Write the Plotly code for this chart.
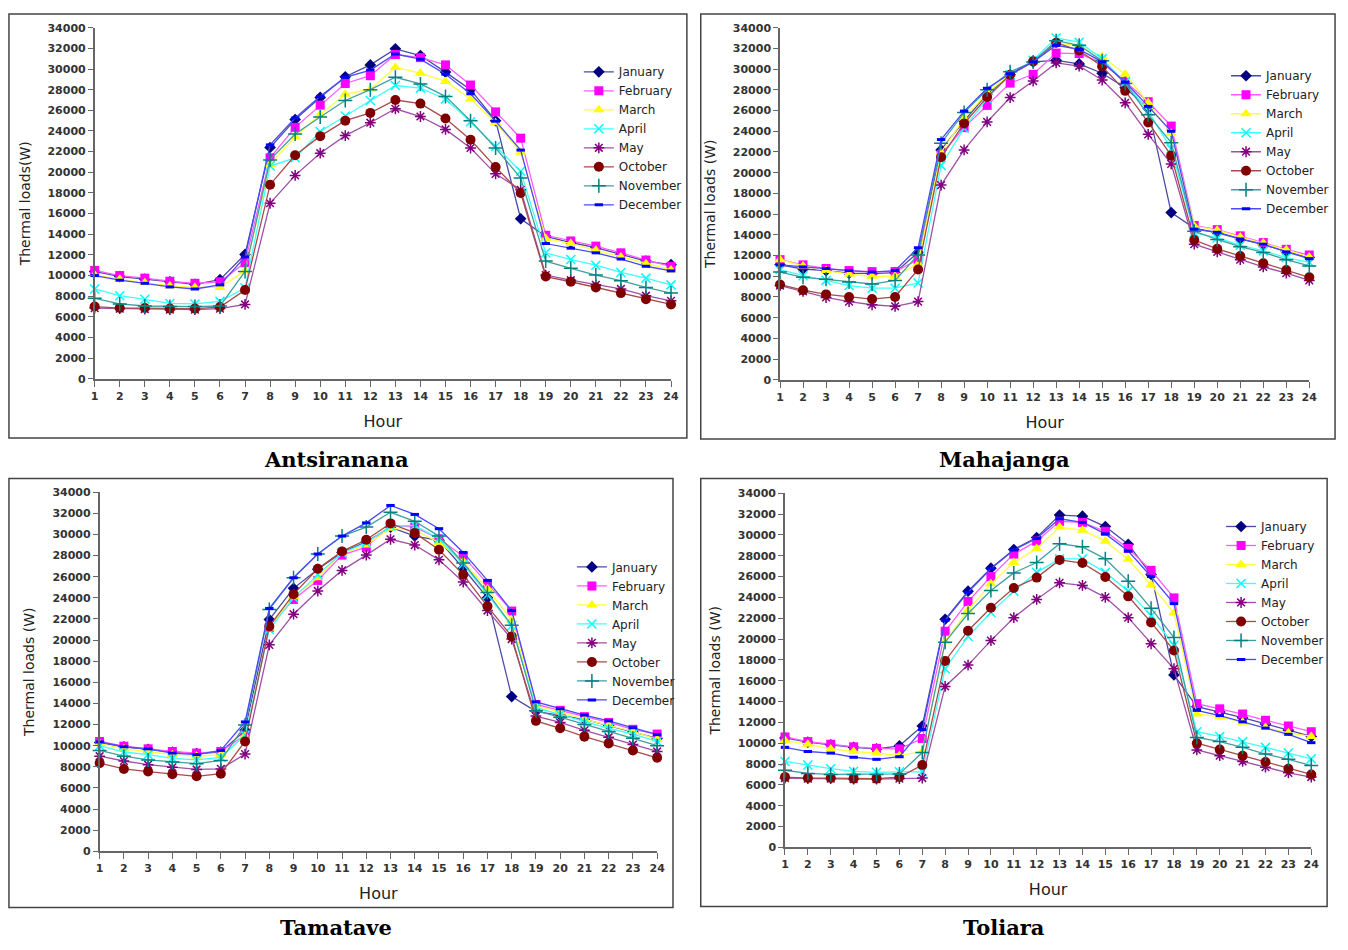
import plotly.graph_objects as go

FW, FH = 1348, 950
HOURS = list(range(1, 25))
MONTHS = ["January", "February", "March", "April", "May", "October", "November", "December"]

# ---------------- Antsiranana ----------------
ANT_JAN = [10400, 9900, 9650, 9400, 9150, 9600, 12050, 22400, 25100, 27250, 29250, 30400, 31950, 31300, 29700, 28000, 25000, 15500, 13800, 13200, 12700, 12050, 11400, 11050]
ANT_FEB = [10500, 10000, 9750, 9450, 9250, 9400, 11250, 21400, 24350, 26500, 28600, 29350, 31400, 31100, 30400, 28450, 25850, 23300, 13900, 13350, 12850, 12200, 11500, 10900]
ANT_MAR = [10050, 9650, 9300, 9000, 8850, 8850, 10450, 20750, 23450, 25600, 27550, 28050, 30150, 29600, 28800, 27100, 24800, 21950, 13600, 13100, 12450, 11800, 11150, 10550]
ANT_APR = [8700, 8050, 7700, 7300, 7250, 7500, 8800, 20600, 21400, 23950, 25450, 26950, 28400, 28150, 27100, 24900, 22500, 20100, 12200, 11550, 11000, 10300, 9750, 9100]
ANT_MAY = [6850, 6800, 6750, 6700, 6700, 6800, 7200, 17000, 19700, 21850, 23550, 24800, 26150, 25400, 24150, 22350, 19850, 18300, 10050, 9550, 9100, 8700, 8050, 7550]
ANT_OCT = [7000, 6850, 6850, 6800, 6800, 6950, 8600, 18800, 21650, 23500, 25000, 25750, 27000, 26650, 25200, 23150, 20500, 18000, 9900, 9400, 8850, 8300, 7700, 7200]
ANT_NOV = [7800, 7250, 7050, 7000, 7000, 7050, 10400, 21200, 23700, 25350, 26950, 28000, 29200, 28550, 27350, 25000, 22350, 19450, 11400, 10700, 10050, 9500, 8850, 8300]
ANT_DEC = [10000, 9550, 9250, 8900, 8700, 9100, 11800, 22650, 25250, 27350, 29200, 29900, 31450, 30950, 29500, 27600, 24950, 22150, 13100, 12650, 12200, 11600, 10900, 10450]

# ---------------- Mahajanga ----------------
MAH_JAN = [11100, 10700, 10550, 10300, 10250, 10350, 12300, 22200, 25000, 27600, 29450, 30700, 30850, 30500, 29600, 28200, 26200, 16150, 14650, 14200, 13600, 13050, 12400, 11800]
MAH_FEB = [11600, 11100, 10750, 10550, 10450, 10450, 11600, 21750, 24350, 26500, 28650, 29500, 31550, 31500, 30600, 28800, 26850, 24500, 14900, 14500, 13900, 13250, 12600, 12050]
MAH_MAR = [11600, 11000, 10550, 10200, 10000, 10000, 11200, 21950, 25250, 27700, 29500, 30700, 32450, 32300, 31200, 29500, 26750, 23800, 14850, 14450, 13800, 13200, 12550, 11850]
MAH_APR = [10650, 10050, 9600, 9100, 8850, 8850, 9350, 20700, 24300, 27150, 29450, 30850, 33000, 32600, 31000, 28700, 25950, 22300, 14200, 13700, 13000, 12450, 11800, 11350]
MAH_MAY = [9100, 8550, 7950, 7550, 7250, 7100, 7550, 18800, 22200, 24900, 27250, 28850, 30600, 30300, 28950, 26750, 23700, 20850, 13100, 12350, 11600, 10900, 10300, 9600]
MAH_OCT = [9200, 8650, 8250, 8000, 7800, 8000, 10650, 21500, 24750, 27300, 29450, 30750, 32550, 31800, 30250, 27900, 24850, 21650, 13500, 12650, 11950, 11250, 10600, 9900]
MAH_NOV = [10400, 9900, 9700, 9450, 9250, 9600, 12050, 22850, 25800, 28000, 29750, 30700, 32750, 32300, 30800, 28600, 25600, 22900, 14350, 13550, 12850, 12300, 11600, 11000]
MAH_DEC = [11100, 10900, 10750, 10550, 10400, 10550, 12750, 23200, 25950, 28150, 29550, 30700, 32300, 31900, 30700, 28750, 26400, 24000, 14550, 14250, 13600, 13100, 12350, 11700]

# ---------------- Tamatave ----------------
TAM_JAN = [10300, 9900, 9650, 9400, 9250, 9400, 11450, 21950, 24900, 26700, 28300, 29300, 30700, 29850, 29450, 26800, 24000, 14650, 13250, 12900, 12500, 11900, 11300, 10700]
TAM_FEB = [10400, 9950, 9700, 9450, 9300, 9450, 11000, 21200, 23850, 25650, 28050, 28800, 30900, 30700, 29600, 27950, 25350, 22750, 13900, 13350, 12750, 12200, 11550, 11100]
TAM_MAR = [10200, 9700, 9450, 9150, 9000, 9150, 10950, 21150, 24100, 25900, 28200, 29000, 30600, 30400, 29250, 27450, 24850, 21900, 13750, 13200, 12500, 11950, 11350, 10600]
TAM_APR = [10000, 9400, 9150, 8800, 8650, 8900, 11000, 21000, 24000, 26200, 28250, 29200, 30800, 30850, 29600, 27200, 24300, 21350, 13600, 12950, 12250, 11650, 11100, 10400]
TAM_MAY = [9000, 8550, 8200, 7950, 7750, 7800, 9200, 19550, 22450, 24650, 26600, 28050, 29550, 29000, 27600, 25500, 22800, 20100, 12800, 12200, 11450, 10800, 10100, 9450]
TAM_OCT = [8350, 7800, 7550, 7300, 7100, 7350, 10400, 21300, 24350, 26750, 28400, 29500, 31050, 30150, 28550, 26200, 23200, 20350, 12350, 11650, 10850, 10200, 9550, 8850]
TAM_NOV = [9550, 9000, 8650, 8450, 8300, 8600, 11950, 22900, 25900, 28150, 29850, 30700, 32100, 31250, 29850, 27300, 24500, 21400, 13300, 12700, 12000, 11350, 10700, 10000]
TAM_DEC = [10350, 9900, 9700, 9300, 9150, 9550, 12250, 23000, 25900, 28150, 29850, 31100, 32750, 31900, 30550, 28300, 25650, 22800, 14150, 13500, 12900, 12350, 11700, 11050]

# ---------------- Toliara ----------------
TOL_JAN = [10500, 10100, 9850, 9600, 9450, 9750, 11650, 21900, 24600, 26800, 28600, 29750, 31900, 31800, 30800, 29100, 26200, 16550, 13500, 13000, 12450, 11850, 11250, 10650]
TOL_FEB = [10600, 10150, 9900, 9650, 9500, 9450, 10450, 20750, 23600, 26000, 28150, 29400, 31300, 31200, 30350, 28700, 26600, 23950, 13800, 13300, 12800, 12200, 11650, 11100]
TOL_MAR = [10250, 9900, 9450, 9200, 9050, 8800, 9200, 19750, 22800, 25300, 27350, 28700, 30750, 30450, 29400, 27650, 25200, 22500, 12800, 12550, 12000, 11500, 11000, 10650]
TOL_APR = [8250, 7900, 7550, 7300, 7200, 7250, 7250, 17150, 20250, 22550, 24600, 26400, 27700, 27700, 26400, 24600, 22250, 19400, 11100, 10650, 10150, 9600, 9050, 8500]
TOL_MAY = [6650, 6600, 6600, 6550, 6550, 6600, 6650, 15450, 17500, 19850, 22050, 23800, 25400, 25150, 24000, 22050, 19550, 17150, 9350, 8800, 8250, 7700, 7150, 6750]
TOL_OCT = [6750, 6650, 6650, 6600, 6600, 6750, 7900, 17900, 20800, 23000, 24900, 25900, 27600, 27300, 25950, 24100, 21600, 18900, 10000, 9400, 8800, 8200, 7550, 7000]
TOL_NOV = [7400, 7100, 7000, 7000, 7000, 7050, 9100, 19700, 22450, 24650, 26350, 27350, 29150, 28850, 27700, 25550, 22950, 20150, 10550, 10150, 9600, 8950, 8450, 7850]
TOL_DEC = [9600, 9200, 9050, 8650, 8450, 8700, 11300, 21800, 24500, 26750, 28550, 29650, 31550, 31200, 30100, 28450, 26000, 23400, 13150, 12650, 12050, 11450, 10850, 10050]

CITIES = ["Antsiranana", "Mahajanga", "Tamatave", "Toliara"]
SERIES = {
    "Antsiranana": [ANT_JAN, ANT_FEB, ANT_MAR, ANT_APR, ANT_MAY, ANT_OCT, ANT_NOV, ANT_DEC],
    "Mahajanga": [MAH_JAN, MAH_FEB, MAH_MAR, MAH_APR, MAH_MAY, MAH_OCT, MAH_NOV, MAH_DEC],
    "Tamatave": [TAM_JAN, TAM_FEB, TAM_MAR, TAM_APR, TAM_MAY, TAM_OCT, TAM_NOV, TAM_DEC],
    "Toliara": [TOL_JAN, TOL_FEB, TOL_MAR, TOL_APR, TOL_MAY, TOL_OCT, TOL_NOV, TOL_DEC],
}
Y_TITLES = ["Thermal loads(W)", "Thermal loads (W)", "Thermal loads (W)", "Thermal loads (W)"]

STYLES = [
    dict(symbol="diamond", size=9, mcolor="#000080", lcolor="#4a4aa6", open=False),
    dict(symbol="square", size=9, mcolor="#ff00ff", lcolor="#ff5cff", open=False),
    dict(symbol="triangle-up", size=10, mcolor="#ffff00", lcolor="#ffff40", open=False),
    dict(symbol="x-thin", size=9, mcolor="#00ffff", lcolor="#40ffff", open=True),
    dict(symbol="asterisk", size=9, mcolor="#800080", lcolor="#a050a8", open=True),
    dict(symbol="circle", size=10, mcolor="#800000", lcolor="#a84a4a", open=False),
    dict(symbol="cross-thin", size=10, mcolor="#008080", lcolor="#40a0a0", open=True),
    dict(symbol="line-ew", size=6, mcolor="#0000ff", lcolor="#4a4aff", open=True),
]

# panel geometry in screen pixels: x of hour1, x of hour24, y of 0, y of 34000
PANELS = [
    dict(x0=91.5, x1=673, yb=378, yt=22, box=(5, 8, 689, 438), leg=(580, 52), title=(335, 460)),
    dict(x0=783, x1=1317, yb=379, yt=22, box=(703, 8, 1343, 439), leg=(1233, 56), title=(1009, 460)),
    dict(x0=96.5, x1=659, yb=857, yt=493, box=(5, 479, 675, 914), leg=(573, 554), title=(335, 934)),
    dict(x0=788, x1=1319, yb=853, yt=494, box=(703, 479, 1335, 913), leg=(1228, 513), title=(1009, 934)),
]

def px(x):
    return x / FW

def py(y):
    return 1 - y / FH

fig = go.Figure()
layout = dict(
    width=FW, height=FH, margin=dict(l=0, r=0, t=0, b=0),
    paper_bgcolor="white", plot_bgcolor="white",
    font=dict(family="DejaVu Sans", color="#222222"),
    shapes=[], annotations=[],
)

tickfont = dict(family="DejaVu Sans", size=11, color="#333333", weight="bold")

for i, city in enumerate(CITIES):
    p = PANELS[i]
    n = "" if i == 0 else str(i + 1)
    legname = "legend" if i == 0 else "legend" + str(i + 1)
    for m, (month, vals) in enumerate(zip(MONTHS, SERIES[city])):
        st = STYLES[m]
        marker = dict(symbol=st["symbol"], size=st["size"], color=st["mcolor"],
                      line=dict(color=st["mcolor"], width=1.5 if st["open"] else 0))
        if st["symbol"] == "line-ew":
            marker["line"] = dict(color=st["mcolor"], width=3)
        fig.add_trace(go.Scatter(
            x=HOURS, y=vals, name=month, mode="lines+markers",
            line=dict(color=st["lcolor"], width=1.3),
            marker=marker, cliponaxis=False,
            xaxis="x" + n, yaxis="y" + n, legend=legname,
        ))
    layout["xaxis" + n] = dict(
        domain=[px(p["x0"]), px(p["x1"])], anchor="y" + n, range=[1, 24],
        tickmode="array", tickvals=HOURS, ticktext=[str(h) for h in HOURS],
        showline=True, linecolor="#666666", linewidth=1.5,
        ticks="outside", ticklen=6, tickwidth=1.2, tickcolor="#666666",
        showgrid=False, zeroline=False, tickfont=tickfont,
        title=dict(text="Hour", font=dict(family="DejaVu Sans", size=16, color="#222222"), standoff=14),
    )
    layout["yaxis" + n] = dict(
        domain=[py(p["yb"]), py(p["yt"])], anchor="x" + n, range=[0, 34000],
        tickmode="linear", tick0=0, dtick=2000, tickformat="d",
        showline=True, linecolor="#666666", linewidth=1.5,
        ticks="outside", ticklen=5, tickwidth=1.2, tickcolor="#666666",
        showgrid=False, zeroline=False, tickfont=tickfont,
        title=dict(text=Y_TITLES[i], font=dict(family="DejaVu Sans", size=14, color="#222222"), standoff=14),
    )
    lx, ly = p["leg"]
    layout[legname] = dict(
        x=px(lx), y=py(ly), xanchor="left", yanchor="top", xref="paper", yref="paper",
        bgcolor="rgba(0,0,0,0)", borderwidth=0, itemwidth=30,
        font=dict(family="DejaVu Sans", size=12, color="#222222"),
        tracegroupgap=0,
    )
    bx0, by0, bx1, by1 = p["box"]
    layout["shapes"].append(dict(
        type="rect", xref="paper", yref="paper",
        x0=px(bx0), x1=px(bx1), y0=py(by1), y1=py(by0),
        line=dict(color="#444444", width=1.5), fillcolor="rgba(0,0,0,0)", layer="below",
    ))
    tx, ty = p["title"]
    layout["annotations"].append(dict(
        text="<b>" + city + "</b>", x=px(tx), y=py(ty), xref="paper", yref="paper",
        xanchor="center", yanchor="middle", showarrow=False,
        font=dict(family="DejaVu Serif", size=21, color="#000000"),
    ))

fig.update_layout(**layout)
fig.write_html(
    "out.html",
    config={"displayModeBar": False},
    post_script="document.body.style.margin='0';document.documentElement.style.overflow='hidden';",
)
